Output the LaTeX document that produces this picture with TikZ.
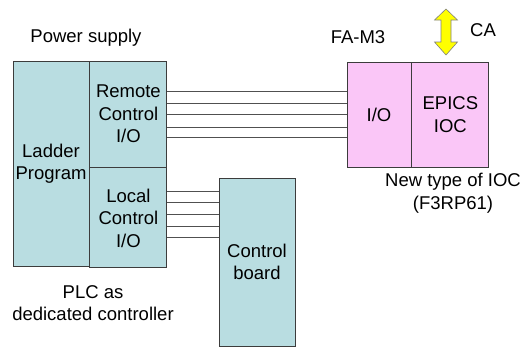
\documentclass[tikz,border=0pt]{standalone}
\usepackage{fontspec}
\setmainfont{Liberation Sans}
\usetikzlibrary{positioning,calc}
\definecolor{PlcFill}{HTML}{B9DDE1}
\definecolor{IocFill}{HTML}{FAC6F7}
\definecolor{Edge}{HTML}{3C3C3C}
\definecolor{Wire}{HTML}{505050}
\definecolor{CaYellow}{HTML}{FFFF00}
\tikzset{
  unit/.style={draw=Edge,line width=.9pt,align=center,inner sep=0pt,font=\fontsize{18.5}{22.5}\selectfont},
  plc/.style={unit,fill=PlcFill},
  ioc/.style={unit,fill=IocFill},
  caption/.style={align=center,inner sep=0pt,font=\fontsize{18.5}{22.5}\selectfont},
  wire/.style={draw=Wire,line width=.8pt}
}
\begin{document}
\begin{tikzpicture}[x=1pt,y=-1pt]
  \useasboundingbox (0,0) rectangle (529,348);
  % PLC
  \node[plc,minimum width=76,minimum height=205] (ladder) at (51,163.5) {Ladder\\Program};
  \node[plc,minimum width=77,minimum height=106,anchor=north west] (remote) at (ladder.north east) {Remote\\Control\\I/O};
  \node[plc,minimum width=77,minimum height=100,anchor=north] (local) at (remote.south) {Local\\Control\\I/O};
  \node[plc,minimum width=76,minimum height=168] (board) at (257,262) {Control\\board};
  % FA-M3
  \node[ioc,minimum width=64,minimum height=105] (fio) at (379,114.5) {I/O};
  \node[ioc,minimum width=77,minimum height=105,anchor=west] (epics) at (fio.east) {EPICS\\IOC};
  % wires
  \foreach \y in {91,103,114,127,137}
    \draw[wire] (remote.east |- 0,\y) -- (fio.west |- 0,\y);
  \foreach \y in {191,202,214,226,237}
    \draw[wire] (local.east |- 0,\y) -- (board.west |- 0,\y);
  % CA arrow
  \coordinate (catop) at (446,9);
  \coordinate (cabot) at (446,55);
  \draw[draw=gray,fill=CaYellow,line width=.6pt]
    (catop) -- ++(11.5,11) -- ++(-6.5,0) -- ++(0,22) -- ++(6.5,0)
    -- (cabot) -- ++(-11.5,-13) -- ++(6.5,0) -- ++(0,-22) -- ++(-6.5,0) -- cycle;
  % labels
  \node[caption] (ca) at (483,30) {CA};
  \node[caption] (fam3) at (358,37) {FA-M3};
  \node[caption] (newioc) at (453,193) {New type of IOC\\(F3RP61)};
  \node[caption] (power) at (86,38) {Power supply};
  \node[caption] (plcas) at (93,303) {PLC as\\dedicated controller};
\end{tikzpicture}
\end{document}
